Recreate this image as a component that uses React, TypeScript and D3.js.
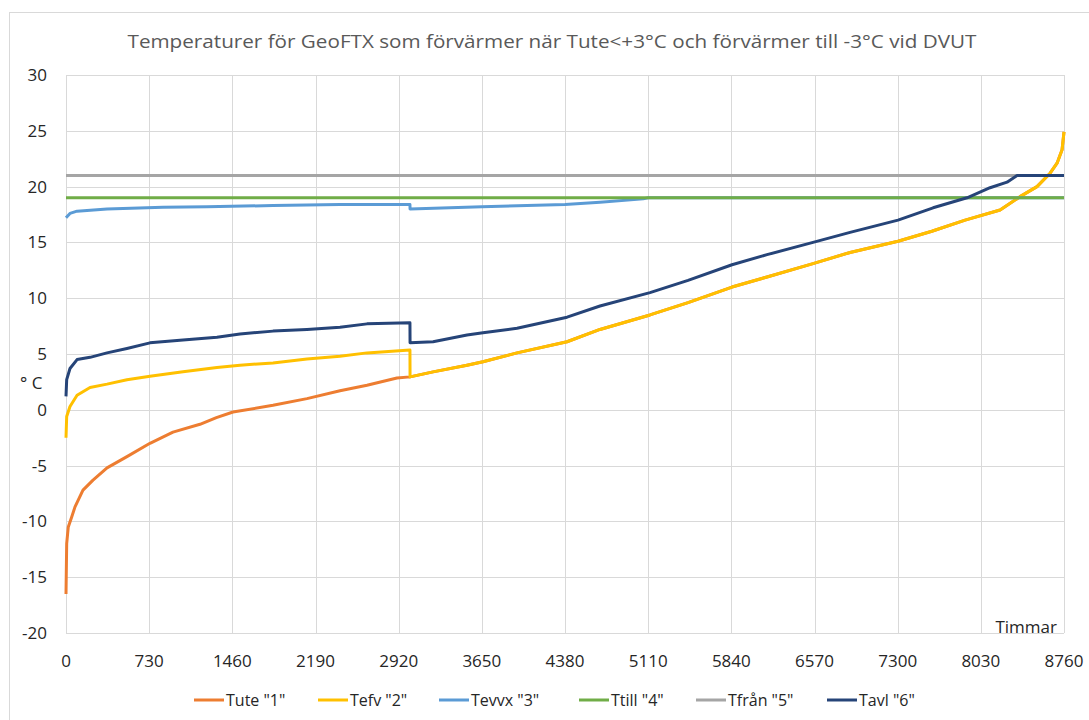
import React from 'react';
import * as d3 from 'd3';

type Pt = [number, number];

// Varaktighetskurvor, timmar sorterade efter utetemperatur
const tuteLow: Pt[] = [
  [0, -16.5], [6, -12.0], [20, -10.5], [50, -9.6], [79, -8.7], [149, -7.2], [237, -6.3],
  [360, -5.2], [535, -4.2], [737, -3.0], [939, -2.0], [1176, -1.3], [1320, -0.7], [1466, -0.2],
  [1817, 0.4], [2115, 1.0], [2405, 1.7], [2642, 2.2], [2905, 2.85], [3019, 2.95],
];

// Över +3°C förvärms inte, Tefv = Tute
const sharedUpper: Pt[] = [
  [3020, 2.95], [3222, 3.4], [3520, 4.0], [3660, 4.3], [3959, 5.1], [4398, 6.1],
  [4687, 7.2], [5126, 8.5], [5460, 9.6], [5846, 11.0], [6153, 11.9], [6557, 13.1],
  [6882, 14.1], [7303, 15.1], [7600, 16.0], [7892, 17.0], [8199, 17.9], [8374, 19.1],
  [8523, 20.0], [8638, 21.2], [8699, 22.1], [8743, 23.3], [8760, 24.9],
];

const tefvLow: Pt[] = [
  [0, -2.5], [6, -0.6], [35, 0.3], [97, 1.3], [211, 2.0], [360, 2.3], [535, 2.7],
  [737, 3.0], [1027, 3.4], [1325, 3.8], [1527, 4.0], [1817, 4.2], [2115, 4.55],
  [2405, 4.8], [2642, 5.1], [3019, 5.35],
];

const tevvx: Pt[] = [
  [0, 17.2], [35, 17.6], [97, 17.8], [360, 18.0], [851, 18.15], [1237, 18.2],
  [1817, 18.3], [2405, 18.4], [3019, 18.4], [3020, 18.0], [3650, 18.2], [4380, 18.4],
  [4687, 18.6], [5066, 18.9], [5110, 19.0], [8760, 19.0],
];

const ttill: Pt[] = [[0, 19], [8760, 19]];
const tfran: Pt[] = [[0, 21], [8760, 21]];

const tavl: Pt[] = [
  [0, 1.2], [6, 2.7], [35, 3.7], [97, 4.5], [211, 4.7], [360, 5.1], [535, 5.5],
  [737, 6.0], [1027, 6.25], [1325, 6.5], [1527, 6.8], [1817, 7.05], [2115, 7.2],
  [2405, 7.4], [2642, 7.7], [3019, 7.8], [3020, 6.0], [3222, 6.1], [3520, 6.7],
  [3660, 6.9], [3959, 7.3], [4398, 8.3], [4687, 9.3], [5126, 10.5], [5460, 11.6],
  [5846, 13.0], [6153, 13.9], [6557, 15.0], [6882, 15.9], [7303, 17.0], [7611, 18.1],
  [7909, 19.0], [8111, 19.9], [8260, 20.4], [8348, 21.0], [8760, 21.0],
];

const xTicks = [0, 730, 1460, 2190, 2920, 3650, 4380, 5110, 5840, 6570, 7300, 8030, 8760];
const yTicks = [-20, -15, -10, -5, 0, 5, 10, 15, 20, 25, 30];

const seriesNames = ['Tute "1"', 'Tefv "2"', 'Tevvx "3"', 'Ttill "4"', 'Tfrån "5"', 'Tavl "6"'];
const seriesColors = ['#ED7D31', '#FFC000', '#5B9BD5', '#70AD47', '#A5A5A5', '#264478'];
const seriesData: Pt[][] = [
  tuteLow.concat(sharedUpper),
  tefvLow.concat(sharedUpper),
  tevvx,
  ttill,
  tfran,
  tavl,
];

const title = 'Temperaturer för GeoFTX som förvärmer när Tute<+3°C och förvärmer till -3°C vid DVUT';

const FONT = '"Open Sans", "Noto Sans", sans-serif';
const TXT = '#595959';
const GRID = '#D9D9D9';

const legendX = [194, 318, 439, 579, 696, 827];

export default function App() {
  const x = d3.scaleLinear().domain([0, 8760]).range([66, 1064]);
  const y = d3.scaleLinear().domain([-20, 30]).range([633, 75]);
  const line = d3.line<Pt>().x(d => x(d[0])).y(d => y(d[1]));

  return (
    <svg width={1089} height={720} style={{ position: 'absolute', left: 0, top: 0, background: '#fff' }}>
      <rect x={9.5} y={12.5} width={1100} height={720} fill="#fff" stroke={GRID} />
      <text x={552} y={48} textAnchor="middle" fontFamily={FONT} fontSize={19} fill={TXT}
        textLength={849} lengthAdjust="spacingAndGlyphs">{title}</text>

      {yTicks.map(t => (
        <g key={'y' + t}>
          <line x1={66} x2={1064} y1={Math.round(y(t)) + 0.5} y2={Math.round(y(t)) + 0.5} stroke={GRID} />
          <text x={47} y={y(t) + 6} textAnchor="end" fontFamily={FONT} fontSize={17} fill="#262626">{t}</text>
        </g>
      ))}
      {xTicks.map(t => (
        <g key={'x' + t}>
          <line x1={Math.round(x(t)) + 0.5} x2={Math.round(x(t)) + 0.5} y1={75} y2={633} stroke={GRID} />
          <text x={x(t)} y={667} textAnchor="middle" fontFamily={FONT} fontSize={17} fill="#262626">{t}</text>
        </g>
      ))}

      <text x={20} y={389} fontFamily={FONT} fontSize={17} fill="#262626">° C</text>
      <text x={1057} y={633} textAnchor="end" fontFamily={FONT} fontSize={17} fill="#262626">Timmar</text>

      {seriesData.map((d, i) => (
        <path key={seriesNames[i]} d={line(d) || ''} fill="none" stroke={seriesColors[i]}
          strokeWidth={3} strokeLinejoin="round" />
      ))}

      {seriesNames.map((n, i) => (
        <g key={'l' + n}>
          <line x1={legendX[i]} x2={legendX[i] + 30} y1={700} y2={700} stroke={seriesColors[i]} strokeWidth={3} />
          <text x={legendX[i] + 32} y={706} fontFamily={FONT} fontSize={16} fill="#262626">{n}</text>
        </g>
      ))}
    </svg>
  );
}
